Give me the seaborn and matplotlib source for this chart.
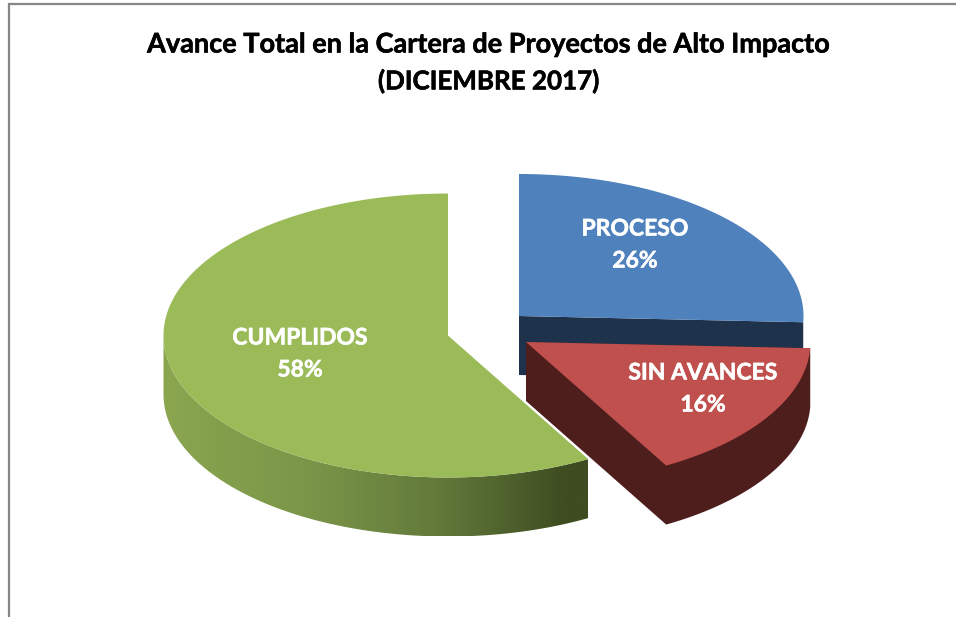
import numpy as np
import matplotlib
matplotlib.use("Agg")
import matplotlib.pyplot as plt
import matplotlib.patheffects as pe
from matplotlib.colors import LinearSegmentedColormap
from matplotlib.patches import Polygon
import seaborn as sns

# Data
categories = ["PROCESO", "SIN AVANCES", "CUMPLIDOS"]
percentages = [25.7, 16.1, 58.2]
title_lines = ["Avance Total en la Cartera de Proyectos de Alto Impacto", "(DICIEMBRE 2017)"]

# Colours
top_colors = sns.color_palette(["#4f81bd", "#c0504d", "#9bbb59"])
blue_wall = "#1f324c"
red_wall = "#4e1e1d"
green_side = [(0, "#8ba64f"), (0.35, "#7a9548"), (0.65, "#62793a"), (0.85, "#4a5c2a"), (0.95, "#3e4c20"), (1, "#3e4c20")]
frame_color = "#868686"

# Pie geometry in pixels (each slice is pulled out on its own centre)
centers = [(519, 316), (526, 342), (448, 335.5)]
label_pos = [(635, 229), (703, 373), (300, 338)]
rx, ry = 284.5, 142
depth = 59


def arc(center, a1, a2, drop=0, n=120):
    t = np.radians(np.linspace(a1, a2, n))
    return np.column_stack([center[0] + rx * np.cos(t),
                            center[1] + ry * np.sin(-t) + drop])


sns.set_theme(style="white")
plt.rcParams["font.family"] = ["Lato", "DejaVu Sans"]

fig = plt.figure(figsize=(9.56, 6.17), dpi=100)
ax = fig.add_axes([0, 0, 1, 1])
ax.set_xlim(0, 956)
ax.set_ylim(617, 0)
ax.axis("off")

# Outer chart frame, cut off on the right and at the bottom
ax.plot([9, 9, 956], [617, 4, 4], color=frame_color, lw=1.6, solid_joinstyle="miter")

# Slice angles go clockwise from 12 o'clock
shares = np.array(percentages) / sum(percentages) * 360
ends = 90 - np.cumsum(shares)
starts = np.r_[90, ends[:-1]]

# PROCESO: cut wall then top
c = centers[0]
edge = arc(c, ends[0], ends[0], n=1)[0]
ax.add_patch(Polygon([c, edge, edge + [0, depth], (c[0], c[1] + depth)], color=blue_wall, lw=0))
ax.add_patch(Polygon(np.vstack([[c], arc(c, starts[0], ends[0])]), color=top_colors[0], lw=0))

# SIN AVANCES: silhouette of rim and cut wall, then top
c = centers[1]
outline = np.vstack([[c], [(c[0], c[1] + depth)], arc(c, ends[1], starts[1], depth), arc(c, starts[1], starts[1], n=1)])
ax.add_patch(Polygon(outline, color=red_wall, lw=0))
ax.add_patch(Polygon(np.vstack([[c], arc(c, starts[1], ends[1])]), color=top_colors[1], lw=0))

# CUMPLIDOS: shaded rim then top
c = centers[2]
rim = np.vstack([arc(c, -180, starts[2]), arc(c, starts[2], -180, depth)])
rim_patch = Polygon(rim, facecolor="none", edgecolor="none", lw=0)
ax.add_patch(rim_patch)
cmap = LinearSegmentedColormap.from_list("rim", green_side)
shade = ax.imshow(np.linspace(0, 1, 256)[None, :], cmap=cmap, aspect="auto",
                  extent=(rim[:, 0].min(), rim[:, 0].max(), rim[:, 1].max(), rim[:, 1].min()))
shade.set_clip_path(rim_patch)
ax.set_xlim(0, 956)
ax.set_ylim(617, 0)
ax.add_patch(Polygon(np.vstack([[c], arc(c, starts[2], ends[2])]), color=top_colors[2], lw=0))

# Labels on the slices
for name, pct, (x, y) in zip(categories, percentages, label_pos):
    ax.text(x, y, name, color="white", fontsize=16.5, fontweight="bold", ha="center", va="center",
            path_effects=[pe.withStroke(linewidth=0.4, foreground="white")])
    ax.text(x, y + 32, f"{round(pct)}%", color="white", fontsize=16.5, fontweight="bold",
            ha="center", va="center", path_effects=[pe.withStroke(linewidth=0.4, foreground="white")])

ax.text(489, 44.5, title_lines[0], color="black", fontsize=19.5, fontweight="bold", ha="center", va="center",
        path_effects=[pe.withStroke(linewidth=0.4, foreground="black")])
ax.text(489, 81, title_lines[1], color="black", fontsize=18.7, fontweight="bold", ha="center", va="center",
        path_effects=[pe.withStroke(linewidth=0.4, foreground="black")])

fig.savefig("out.png", dpi=100, facecolor="white")
